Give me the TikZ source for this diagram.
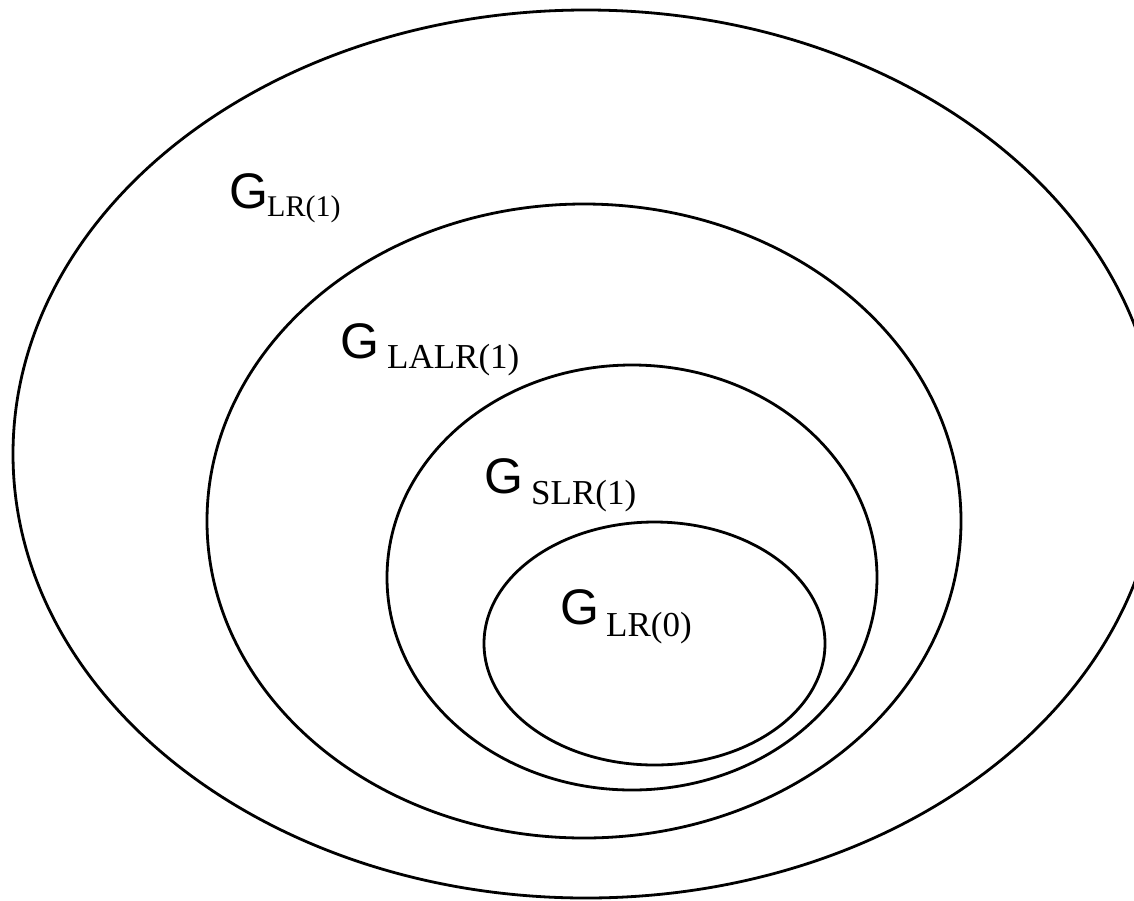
\documentclass[tikz,border=0pt]{standalone}
\usepackage{fontspec}
\newfontfamily\gfont{Liberation Sans}
\newfontfamily\subfont{Liberation Serif}
\begin{document}
\begin{tikzpicture}[x=1pt,y=-1pt,
  ring/.style={line width=2.8pt},
  gtext/.style={anchor=base west,inner sep=0pt,font=\gfont\fontsize{50}{50}\selectfont},
  subtext/.style={anchor=base west,inner sep=0pt,font=\subfont\fontsize{35}{35}\selectfont},
  subsmall/.style={subtext,font=\subfont\fontsize{30}{30}\selectfont}]
\useasboundingbox (0,0) rectangle (1134,900);
\clip (0,0) rectangle (1134,900);
\draw[ring] (586,454) ellipse [x radius=573pt, y radius=444pt];
\draw[ring] (584,521) ellipse [x radius=377pt, y radius=317pt];
\draw[ring] (632,577.5) ellipse [x radius=245pt, y radius=212.5pt];
\draw[ring] (654.5,643.5) ellipse [x radius=170.5pt, y radius=121.5pt];
\node[gtext] (g1) at (229,208) {G};
\node[subsmall] (s1) at (267,216) {LR(1)};
\node[gtext] (g2) at (340,358) {G};
\node[subtext] (s2) at (387,368) {LALR(1)};
\node[gtext] (g3) at (484,493) {G};
\node[subtext] (s3) at (531,504) {SLR(1)};
\node[gtext] (g4) at (560,624) {G};
\node[subtext] (s4) at (606,636) {LR(0)};
\end{tikzpicture}
\end{document}
